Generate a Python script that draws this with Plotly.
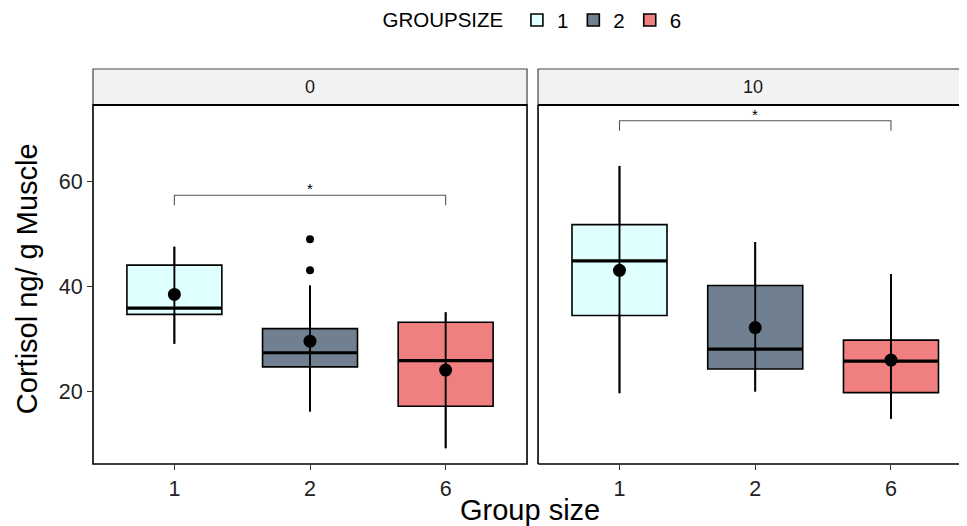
import plotly.graph_objects as go

# ---------------- data ----------------
categories = ["1", "2", "6"]
facets = ["0", "10"]

# facet "0"
q1_0 = [34.6, 24.6, 17.1]
median_0 = [35.8, 27.3, 25.8]
q3_0 = [44.0, 31.9, 33.1]
low_0 = [29.0, 16.1, 9.1]
high_0 = [47.5, 40.1, 35.0]
mean_0 = [38.4, 29.5, 24.0]
outlier_cat_0 = ["2", "2"]
outlier_val_0 = [48.9, 43.0]

# facet "10"
q1_10 = [34.4, 24.2, 19.7]
median_10 = [44.8, 28.0, 25.7]
q3_10 = [51.7, 40.1, 29.7]
low_10 = [19.6, 19.9, 14.7]
high_10 = [62.9, 48.4, 42.3]
mean_10 = [43.0, 32.1, 25.9]
outlier_cat_10 = []
outlier_val_10 = []

# significance brackets per facet
sig_from = ["1", "1"]
sig_to = ["6", "6"]
sig_y = [57.3, 71.5]
sig_label = ["*", "*"]

colors = {"1": "#E0FFFF", "2": "#708090", "6": "#F08080"}

FONT = "Liberation Sans, Arial, sans-serif"
BOXW = 0.7

fig = go.Figure()

panels = [
    ("x", q1_0, median_0, q3_0, low_0, high_0, mean_0, outlier_cat_0, outlier_val_0),
    ("x2", q1_10, median_10, q3_10, low_10, high_10, mean_10, outlier_cat_10, outlier_val_10),
]

pos = {c: i for i, c in enumerate(categories)}

for pi, (xa, q1, med, q3, lo, hi, mn, ocat, oval) in enumerate(panels):
    for i, c in enumerate(categories):
        fig.add_trace(go.Box(
            x=[pos[c]], q1=[q1[i]], median=[med[i]], q3=[q3[i]],
            lowerfence=[lo[i]], upperfence=[hi[i]],
            width=BOXW, whiskerwidth=0,
            fillcolor=colors[c], line=dict(color="black", width=1.6),
            name=c, legendgroup=c, showlegend=(pi == 0),
            boxpoints=False, xaxis=xa, yaxis="y", hoverinfo="skip",
        ))
    mx, my = [], []
    for i, c in enumerate(categories):
        mx += [pos[c] - BOXW / 2, pos[c] + BOXW / 2, None]
        my += [med[i], med[i], None]
    fig.add_trace(go.Scatter(x=mx, y=my, mode="lines", line=dict(color="black", width=3.2),
                             showlegend=False, xaxis=xa, yaxis="y", hoverinfo="skip"))
    vx, vy = [], []
    for i, c in enumerate(categories):
        vx += [pos[c], pos[c], None]
        vy += [lo[i], hi[i], None]
    fig.add_trace(go.Scatter(x=vx, y=vy, mode="lines", line=dict(color="black", width=1.9),
                             showlegend=False, xaxis=xa, yaxis="y", hoverinfo="skip"))
    if ocat:
        fig.add_trace(go.Scatter(x=[pos[c] for c in ocat], y=oval, mode="markers",
                                 marker=dict(color="black", size=8),
                                 showlegend=False, xaxis=xa, yaxis="y", hoverinfo="skip"))
    fig.add_trace(go.Scatter(x=[pos[c] for c in categories], y=mn, mode="markers",
                             marker=dict(color="black", size=13),
                             showlegend=False, xaxis=xa, yaxis="y", hoverinfo="skip"))

# significance brackets
for pi, xa in enumerate(["x", "x2"]):
    a, b = pos[sig_from[pi]], pos[sig_to[pi]]
    yb = sig_y[pi]
    fig.add_trace(go.Scatter(x=[a, a, b, b], y=[yb - 1.9, yb, yb, yb - 1.9], mode="lines",
                             line=dict(color="#555555", width=1.1),
                             showlegend=False, xaxis=xa, yaxis="y", hoverinfo="skip"))
    fig.add_annotation(x=(a + b) / 2, y=yb, xref=xa, yref="y", text=sig_label[pi],
                       showarrow=False, yanchor="bottom", yshift=-4,
                       font=dict(family=FONT, size=15, color="black"))

# panel borders and strips
shapes = []
for xa in ["x", "x2"]:
    shapes.append(dict(type="rect", xref=f"{xa} domain", yref="y domain", x0=0, x1=1.02 if xa == "x2" else 1,
                       y0=1, y1=1.1003, fillcolor="#F2F2F2",
                       line=dict(color="#444444", width=1.2), layer="below"))
shapes.append(dict(type="rect", xref="x domain", yref="y domain", x0=0, x1=1, y0=0, y1=1,
                   line=dict(color="black", width=1.6)))
for (x0, y0, x1, y1) in [(0, 0, 0, 1), (0, 0, 1.02, 0)]:
    shapes.append(dict(type="line", xref="x2 domain", yref="y domain", x0=x0, x1=x1,
                       y0=y0, y1=y1, line=dict(color="black", width=1.6)))
for xa in ["x", "x2"]:
    shapes.append(dict(type="line", xref=f"{xa} domain", yref="y domain", x0=0,
                       x1=1.02 if xa == "x2" else 1,
                       y0=1, y1=1, line=dict(color="black", width=2.2)))

for xa, lab in zip(["x", "x2"], facets):
    fig.add_annotation(x=0.5, y=1.0501, xref=f"{xa} domain", yref="y domain", text=lab,
                       showarrow=False, yanchor="middle", xanchor="center",
                       font=dict(family=FONT, size=18, color="#1A1A1A"))

tick_font = dict(family=FONT, size=21.5, color="#222222")
xcommon = dict(tickmode="array", tickvals=list(range(len(categories))), ticktext=categories,
               ticks="outside", ticklen=5, tickcolor="#333333", tickwidth=1.3,
               showgrid=False, zeroline=False, showline=False, tickfont=tick_font,
               automargin=False)

# figure is 8px smaller than the window to account for the page's body margin
fig.update_layout(
    width=959, height=518,
    margin=dict(l=85, r=0, t=97, b=62, autoexpand=False),
    paper_bgcolor="white", plot_bgcolor="white",
    boxmode="overlay",
    xaxis=dict(domain=[0, 0.4966], range=[-0.6, 2.6], anchor="y", **xcommon),
    xaxis2=dict(domain=[0.5092, 1], range=[-0.6, 2.56], anchor="y", **xcommon),
    yaxis=dict(range=[6.1, 74.5], tickvals=[20, 40, 60], ticks="outside", ticklen=5,
               tickcolor="#333333", tickwidth=1.3, showgrid=False, zeroline=False,
               showline=False, tickfont=tick_font, automargin=False),
    shapes=shapes,
    legend=dict(orientation="h", x=0.504, xanchor="center", y=1.292, yanchor="top",
                title=dict(text="GROUPSIZE ", side="left", font=dict(family=FONT, size=20.5, color="black")),
                font=dict(family=FONT, size=20.5, color="black"), itemwidth=30,
                bgcolor="rgba(0,0,0,0)"),
    showlegend=True,
)

fig.add_annotation(x=-0.0755, y=0.515, xref="paper", yref="paper", text="Cortisol ng/ g Muscle",
                   textangle=-90, showarrow=False, xanchor="center", yanchor="middle",
                   font=dict(family=FONT, size=29, color="black"))
fig.add_annotation(x=0.5, y=-0.128, xref="paper", yref="paper", text="Group size",
                   showarrow=False, yanchor="middle", xanchor="center",
                   font=dict(family=FONT, size=29, color="black"))

fig.write_html("out.html")
